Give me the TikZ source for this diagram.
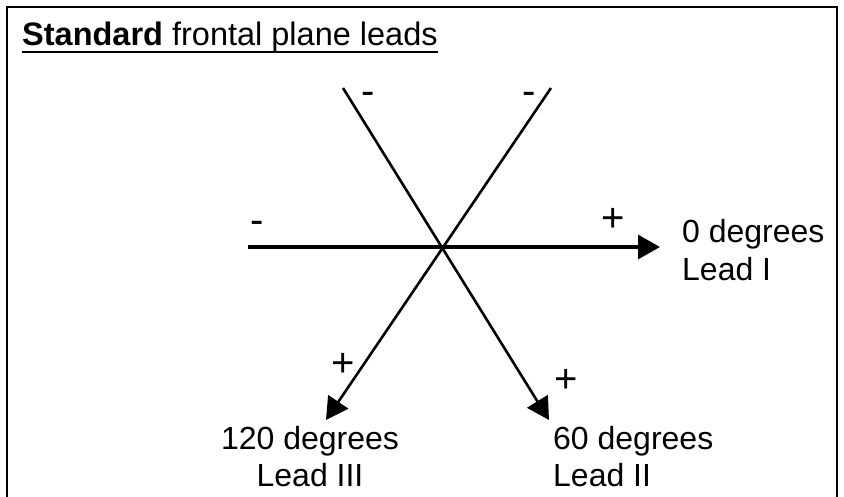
\documentclass[tikz,border=0pt]{standalone}
\usepackage{fontspec}
\setmainfont{Liberation Sans}
\usetikzlibrary{arrows.meta}
\begin{document}
\begin{tikzpicture}[x=1pt,y=-1pt,
  lbl/.style={inner sep=0pt,font=\fontsize{32}{38}\selectfont},
  sgn/.style={inner sep=0pt,anchor=base,font=\fontsize{40}{46}\selectfont},
  axis/.style={line width=2.6pt,-{Triangle[length=22pt,width=24pt]}},
  frame/.style={line width=2pt}]
\useasboundingbox (0,0) rectangle (844,497);
% frame
\draw[frame] (7,505) -- (7,7) -- (837,7) -- (837,505);
% title
\node[inner sep=0pt,anchor=base west,font=\fontsize{32.5}{38}\selectfont] (title) at (22,46) {\textbf{Standard} frontal plane leads};
\draw[line width=2pt] ([yshift=-6pt]title.base west) -- ([yshift=-6pt]title.base east);
% axis end points
\coordinate (hL) at (248,247);
\coordinate (hR) at (660,247);
\coordinate (dA) at (343,88);
\coordinate (dB) at (549,420);
\coordinate (dC) at (551,88);
\coordinate (dD) at (326,420);
\draw[axis,line width=3.2pt] (hL) -- (hR);
\draw[axis] (dA) -- (dB);
\draw[axis] (dC) -- (dD);
% signs
\node[sgn] (m1) at (257,234) {-};
\node[sgn] (m2) at (368,105) {-};
\node[sgn] (m3) at (529,105) {-};
\node[sgn] (p1) at (613,232) {+};
\node[sgn] (p2) at (343,376) {+};
\node[sgn] (p3) at (566,392) {+};
% labels
\node[lbl,anchor=base west] (l0a) at (682,243) {0 degrees};
\node[lbl,anchor=base west] (l0b) at (682,280) {Lead I};
\node[lbl,anchor=base] (l120a) at (310,449) {120 degrees};
\node[lbl,anchor=base] (l120b) at (310,486) {Lead III};
\node[lbl,anchor=base west] (l60a) at (553,449) {60 degrees};
\node[lbl,anchor=base west] (l60b) at (553,486) {Lead II};
\end{tikzpicture}
\end{document}
